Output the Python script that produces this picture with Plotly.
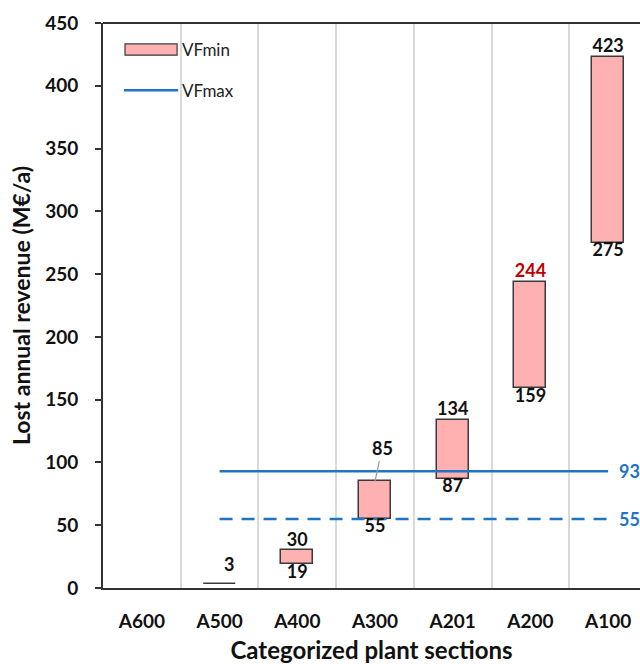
import plotly.graph_objects as go

categories = ["A600", "A500", "A400", "A300", "A201", "A200", "A100"]
vf_min = [None, 3, 19, 55, 87, 159, 275]
vf_max = [None, 3, 30, 85, 134, 244, 423]
line_cats = ["A500", "A400", "A300", "A201", "A200", "A100"]
vfmax_level = 93
vfmin_level = 55
yticks = [0, 50, 100, 150, 200, 250, 300, 350, 400, 450]

FONT = "Lato"
BLUE = "#1F74C4"
PINK = "#FFB0B0"
EDGE = "#3A3A3A"
DARK = "#111111"

fig = go.Figure()

heights = [None if a is None else b - a for a, b in zip(vf_min, vf_max)]
fig.add_trace(go.Bar(
    x=categories, y=heights, base=vf_min, width=0.41, name="VFmin",
    marker=dict(color=PINK, line=dict(color=EDGE, width=1.5)),
    showlegend=False,
))

fig.add_trace(go.Scatter(
    x=line_cats, y=[vfmax_level] * len(line_cats), mode="lines", name="VFmax",
    line=dict(color=BLUE, width=2.5), showlegend=False,
))
fig.add_trace(go.Scatter(
    x=line_cats, y=[vfmin_level] * len(line_cats), mode="lines", name="VFmax (min level)",
    line=dict(color=BLUE, width=2.5, dash="13px,9px"), showlegend=False,
))

# max labels (A300 uses a leader line, A500 is offset)
mx_x, mx_y, mx_t, mx_c = [], [], [], []
for c, v in zip(categories, vf_max):
    if v is None or c in ("A300", "A500"):
        continue
    mx_x.append(c); mx_y.append(v); mx_t.append(str(v))
    mx_c.append("#C00000" if c == "A200" else DARK)
fig.add_trace(go.Scatter(
    x=mx_x, y=mx_y, text=mx_t, mode="text", textposition="top center",
    textfont=dict(family=FONT, size=18, color=mx_c, weight="bold"),
    showlegend=False, hoverinfo="skip", cliponaxis=False,
))
mn_x, mn_y, mn_t = [], [], []
for c, a, b in zip(categories, vf_min, vf_max):
    if a is None or a == b:
        continue
    mn_x.append(c); mn_y.append(a); mn_t.append(str(a))
fig.add_trace(go.Scatter(
    x=mn_x, y=mn_y, text=mn_t, mode="text", textposition="bottom center",
    textfont=dict(family=FONT, size=18, color=DARK, weight="bold"),
    showlegend=False, hoverinfo="skip", cliponaxis=False,
))

fig.add_annotation(
    x="A500", y=vf_max[1], text=str(vf_max[1]), showarrow=False,
    xshift=9, yshift=20,
    font=dict(family=FONT, size=18, color=DARK, weight="bold"),
)
fig.add_annotation(
    x="A300", y=vf_max[3], text=str(vf_max[3]), showarrow=True, arrowhead=0,
    arrowcolor="#9A9A9A", arrowwidth=1.2, ax=7, ay=-33,
    font=dict(family=FONT, size=18, color=DARK, weight="bold"),
)

for lvl in (vfmax_level, vfmin_level):
    fig.add_annotation(
        xref="paper", x=0.957, y=lvl, yref="y", text=str(lvl), showarrow=False,
        xanchor="left", yanchor="middle",
        font=dict(family=FONT, size=18, color=BLUE, weight="bold"),
    )

# legend (manual)
fig.add_shape(type="rect", xref="paper", yref="paper", x0=0.041, x1=0.138,
              y0=0.943, y1=0.963, fillcolor=PINK, line=dict(color=EDGE, width=1.2))
fig.add_shape(type="line", xref="paper", yref="paper", x0=0.039, x1=0.140,
              y0=0.881, y1=0.881, line=dict(color=BLUE, width=2.5))
fig.add_annotation(xref="paper", yref="paper", x=0.143, y=0.953, text="VFmin",
                   showarrow=False, xanchor="left", yanchor="middle",
                   font=dict(family=FONT, size=17, color="#222222"))
fig.add_annotation(xref="paper", yref="paper", x=0.143, y=0.881, text="VFmax",
                   showarrow=False, xanchor="left", yanchor="middle",
                   font=dict(family=FONT, size=17, color="#222222"))

# top border
fig.add_shape(type="line", xref="paper", yref="paper", x0=0, x1=1, y0=1, y1=1,
              line=dict(color="#333333", width=2))

fig.update_layout(
    width=640, height=664,
    margin=dict(l=103, r=0, t=23, b=76),
    paper_bgcolor="white", plot_bgcolor="white",
    xaxis=dict(
        type="category", categoryorder="array", categoryarray=categories,
        range=[-0.5, 6.41], tickson="boundaries", showgrid=True,
        gridcolor="#D9D9D9", gridwidth=1.5,
        showline=True, linecolor="#333333", linewidth=2,
        ticks="", ticklabelstandoff=15,
        tickfont=dict(family=FONT, size=19, color=DARK, weight="bold"),
        title=dict(text="Categorized plant sections", standoff=16,
                   font=dict(family=FONT, size=24, color=DARK, weight="bold")),
        zeroline=False,
    ),
    yaxis=dict(
        range=[0, 450], tickvals=yticks, showgrid=False, zeroline=False,
        showline=True, linecolor="#333333", linewidth=2,
        ticks="outside", ticklen=6, tickwidth=2, tickcolor="#333333",
        ticklabelstandoff=13,
        tickfont=dict(family=FONT, size=19, color=DARK, weight="bold"),
        title=dict(text="Lost annual revenue (M€/a)", standoff=8,
                   font=dict(family=FONT, size=23, color=DARK, weight="bold")),
    ),
    showlegend=False,
    bargap=0,
)

fig.write_html(
    "out.html",
    config={"displayModeBar": False},
    post_script="document.body.style.margin='0';document.body.style.overflow='hidden';",
)
